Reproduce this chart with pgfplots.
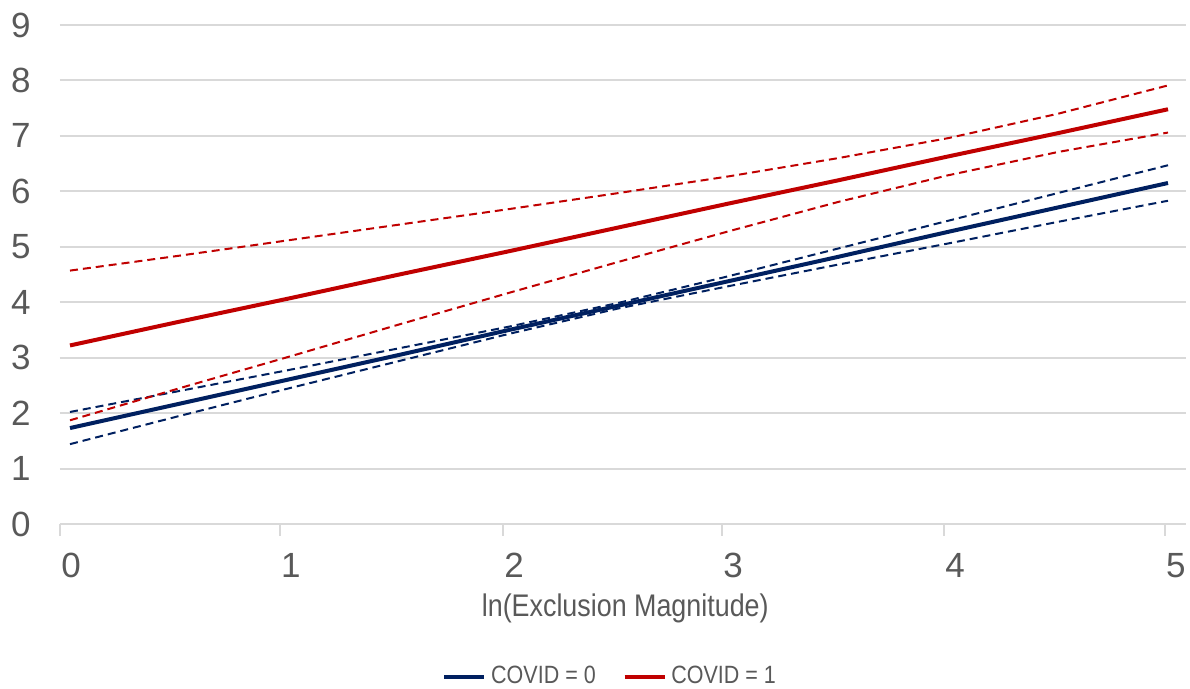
\documentclass[border=0pt]{standalone}
\usepackage{pgfplots}
\pgfplotsset{compat=1.18}
\usepackage{fontspec}
\setmainfont{Liberation Sans}
\newfontfamily\narrowfont[FakeStretch=0.86]{Liberation Sans}

\definecolor{navy}{HTML}{002060}
\definecolor{dred}{HTML}{C00000}
\definecolor{txtgray}{HTML}{595959}
\definecolor{gridgray}{HTML}{D9D9D9}

\begin{document}
\begin{tikzpicture}
\begin{axis}[
  scale only axis,
  width=450.4pt,
  height=199.6pt,
  xmin=-0.0455, xmax=5.082,
  ymin=0, ymax=9,
  axis x line*=bottom,
  axis y line*=left,
  x axis line style={draw=gridgray, line width=0.8pt, -},
  y axis line style={draw=none},
  xtick={-0.0455,0.956,1.972,2.969,3.98,4.986},
  xticklabels={0,1,2,3,4,5},
  xtick align=outside,
  major tick length=4.8pt,
  xtick style={draw=gridgray, line width=0.8pt},
  xticklabel style={anchor=north, inner sep=0pt, xshift=4.4pt, yshift=-6.8pt, font=\fontsize{14}{16}\selectfont, text=txtgray},
  ytick={0,...,9},
  yticklabel style={anchor=east, inner sep=0pt, xshift=-11.6pt, font=\fontsize{14}{16}\selectfont, text=txtgray},
  ytick style={draw=none},
  ymajorgrids=true,
  grid style={draw=gridgray, line width=0.8pt},
  /pgf/number format/assume math mode=true,
  xlabel={ln(Exclusion Magnitude)},
  xlabel style={at={(axis description cs:0.502,0)}, anchor=center, yshift=-33.6pt, font=\narrowfont\fontsize{12.5}{14}\selectfont, text=txtgray},
  legend style={at={(axis description cs:0.490,0)}, anchor=center, yshift=-61.2pt,
    legend columns=2, draw=none, fill=none, font=\narrowfont\fontsize{10}{12}\selectfont, text=txtgray,
    /tikz/every even column/.append style={column sep=8.8pt}},
  legend image code/.code={\draw[#1, line width=1.4pt] (0pt,0pt) -- (16pt,0pt);},
  clip=false,
]
% COVID = 0
\addplot[navy, line width=1.6pt] coordinates {
  (0,1.73)(0.5,2.17)(1,2.61)(1.5,3.05)(2,3.50)(2.5,3.94)(3,4.38)(3.5,4.82)(4,5.27)(4.5,5.71)(5,6.15)};
\addlegendentry{COVID = 0}
% COVID = 1
\addplot[dred, line width=1.6pt] coordinates {
  (0,3.22)(0.5,3.65)(1,4.07)(1.5,4.50)(2,4.92)(2.5,5.35)(3,5.78)(3.5,6.20)(4,6.63)(4.5,7.05)(5,7.48)};
\addlegendentry{COVID = 1}
% confidence bands, COVID = 0
\addplot[navy, line width=0.8pt, dash pattern=on 3.2pt off 2pt, forget plot] coordinates {
  (0,2.02)(0.5,2.40)(1,2.78)(1.5,3.17)(2,3.56)(2.5,3.99)(3,4.47)(3.5,4.97)(4,5.47)(4.5,5.97)(5,6.47)};
\addplot[navy, line width=0.8pt, dash pattern=on 3.2pt off 2pt, forget plot] coordinates {
  (0,1.44)(0.5,1.95)(1,2.45)(1.5,2.94)(2,3.43)(2.5,3.89)(3,4.29)(3.5,4.68)(4,5.06)(4.5,5.45)(5,5.83)};
% confidence bands, COVID = 1
\addplot[dred, line width=0.8pt, dash pattern=on 3.2pt off 2pt, forget plot] coordinates {
  (0,4.57)(0.5,4.84)(1,5.12)(1.5,5.40)(2,5.68)(2.5,5.97)(3,6.27)(3.5,6.60)(4,6.96)(4.5,7.40)(5,7.91)};
\addplot[dred, line width=0.8pt, dash pattern=on 3.2pt off 2pt, forget plot] coordinates {
  (0,1.87)(0.5,2.45)(1,3.02)(1.5,3.60)(2,4.17)(2.5,4.73)(3,5.28)(3.5,5.81)(4,6.29)(4.5,6.71)(5,7.06)};
\end{axis}
\pgfresetboundingbox
\path[use as bounding box] ([shift={(-24pt,-66pt)}]current axis.south west) rectangle ([shift={(1.6pt,10pt)}]current axis.north east);
\end{tikzpicture}
\end{document}
